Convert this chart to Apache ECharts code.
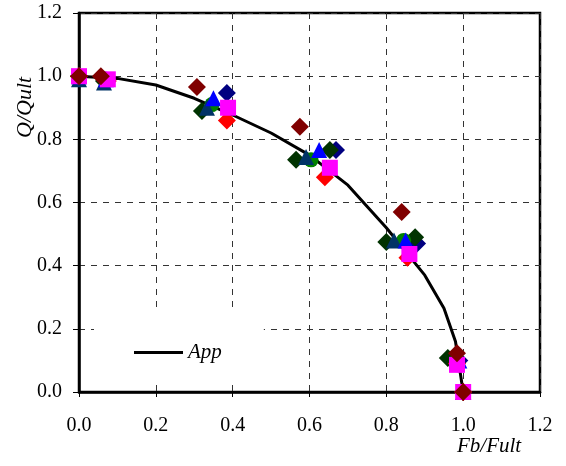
<!DOCTYPE html>
<html>
<head>
<meta charset="utf-8">
<script src="https://cdn.jsdelivr.net/npm/echarts@6/dist/echarts.min.js"></script>
<style>html,body{margin:0;padding:0;background:#fff;}#c{width:566px;height:466px;}</style>
</head>
<body>
<div id="c"></div>
<script>
var xTicks = [0, 0.2, 0.4, 0.6, 0.8, 1.0, 1.2];
var yTicks = [0, 0.2, 0.4, 0.6, 0.8, 1.0, 1.2];

var appX = [0, 0.1, 0.2, 0.3, 0.4, 0.5, 0.6, 0.7, 0.8, 0.9, 0.95, 0.98, 1.0];
var appY = [1.0, 0.993, 0.972, 0.93, 0.877, 0.82, 0.75, 0.655, 0.52, 0.37, 0.265, 0.16, 0.0];

var tealTri = [[0, 0.99], [0.065, 0.98], [0.333, 0.90], [0.591, 0.744], [0.82, 0.48], [0.984, 0.095], [1.0, 0.0]];
var navyDia = [[0, 1.0], [0.07, 0.985], [0.385, 0.947], [0.669, 0.766], [0.88, 0.47], [0.99, 0.10], [1.0, 0.0]];
var dkGreenDia = [[0, 1.0], [0.065, 0.985], [0.32, 0.89], [0.565, 0.735], [0.80, 0.475], [0.96, 0.108], [1.0, 0.0]];
var dkGreenDia2 = [[0.653, 0.766], [0.875, 0.49]];
var redDia = [[0, 1.0], [0.075, 0.985], [0.385, 0.86], [0.64, 0.68], [0.855, 0.425], [0.984, 0.09], [1.0, 0.0]];
var greenCir = [[0, 1.0], [0.07, 0.99], [0.346, 0.91], [0.604, 0.735], [0.845, 0.48], [0.984, 0.10], [1.0, 0.0]];
var blueTri = [[0, 1.0], [0.07, 0.99], [0.35, 0.93], [0.625, 0.766], [0.85, 0.48], [0.99, 0.10], [1.0, 0.0]];
var magSq = [[0, 1.0], [0.075, 0.99], [0.388, 0.90], [0.653, 0.71], [0.86, 0.437], [0.984, 0.086], [1.0, 0.0]];
var dkRedDia = [[0, 1.0], [0.057, 1.0], [0.307, 0.966], [0.575, 0.84], [0.84, 0.57], [0.984, 0.123], [1.0, 0.0]];

var FONT = '"Liberation Serif", "DejaVu Serif", serif';

function sc(name, data, sym, size, color) {
  return {
    name: name, type: 'scatter', data: data, symbol: sym, symbolSize: size,
    itemStyle: {color: color, opacity: 1}, emphasis: {disabled: true}, z: 3
  };
}

var appData = appX.map(function (x, i) { return [x, appY[i]]; });

var chart = echarts.init(document.getElementById('c'), null, {renderer: 'canvas'});
chart.setOption({
  animation: false,
  backgroundColor: '#fff',
  grid: {left: 79, right: 26, top: 13, bottom: 74, show: true, borderColor: '#000', borderWidth: 2.5, backgroundColor: 'transparent'},
  xAxis: {
    type: 'value', min: 0, max: 1.2, interval: 0.2,
    axisLine: {show: true, lineStyle: {color: '#000', width: 2.5}},
    axisTick: {show: true, inside: false, length: 5, lineStyle: {color: '#000', width: 1}},
    axisLabel: {margin: 24, color: '#000', fontFamily: FONT, fontSize: 20,
      formatter: function (v) { return v.toFixed(1); }},
    splitLine: {show: true, lineStyle: {color: '#333', type: [6, 6], width: 1}}
  },
  yAxis: {
    type: 'value', min: 0, max: 1.2, interval: 0.2,
    axisLine: {show: true, lineStyle: {color: '#000', width: 2.5}},
    axisTick: {show: true, inside: false, length: 6, lineStyle: {color: '#000', width: 1}},
    axisLabel: {margin: 17, color: '#000', fontFamily: FONT, fontSize: 20,
      formatter: function (v) { return v.toFixed(1); }},
    splitLine: {show: true, lineStyle: {color: '#333', type: [6, 6], width: 1}}
  },
  legend: {
    data: [{name: 'App', icon: 'rect'}],
    left: 94, top: 313,
    padding: [29, 42, 19, 40],
    backgroundColor: '#fff',
    itemWidth: 49, itemHeight: 3, itemGap: 5,
    textStyle: {fontFamily: FONT, fontStyle: 'italic', fontSize: 21, color: '#000'},
    itemStyle: {color: '#000'},
    selectedMode: false
  },
  graphic: [
    {type: 'text', left: 457, top: 436, style: {text: 'Fb/Fult', font: 'italic 21px ' + FONT, fill: '#000'}},
    {type: 'text', x: 14, y: 138, rotation: Math.PI / 2, style: {text: 'Q/Qult', font: 'italic 22px ' + FONT, fill: '#000'}}
  ],
  series: [
    {name: 'App', type: 'line', data: appData, showSymbol: false, symbol: 'none',
      lineStyle: {color: '#000', width: 3}, itemStyle: {color: '#000'}, z: 2, emphasis: {disabled: true}},
    sc('s1', navyDia, 'diamond', [18, 18], '#000080'),
    sc('s2', dkGreenDia, 'diamond', [18, 18], '#003300'),
    sc('s2b', dkGreenDia2, 'diamond', [18, 18], '#003300'),
    sc('s3', redDia, 'diamond', [18, 18], '#FF0000'),
    sc('s4', greenCir, 'circle', 15, '#008000'),
    sc('s5', tealTri, 'triangle', [16, 16], '#003366'),
    sc('s6', blueTri, 'triangle', [16, 16], '#0000FF'),
    sc('s7', magSq, 'rect', [16, 16], '#FF00FF'),
    sc('s8', dkRedDia, 'diamond', [18, 18], '#800000')
  ]
});
</script>
</body>
</html>
